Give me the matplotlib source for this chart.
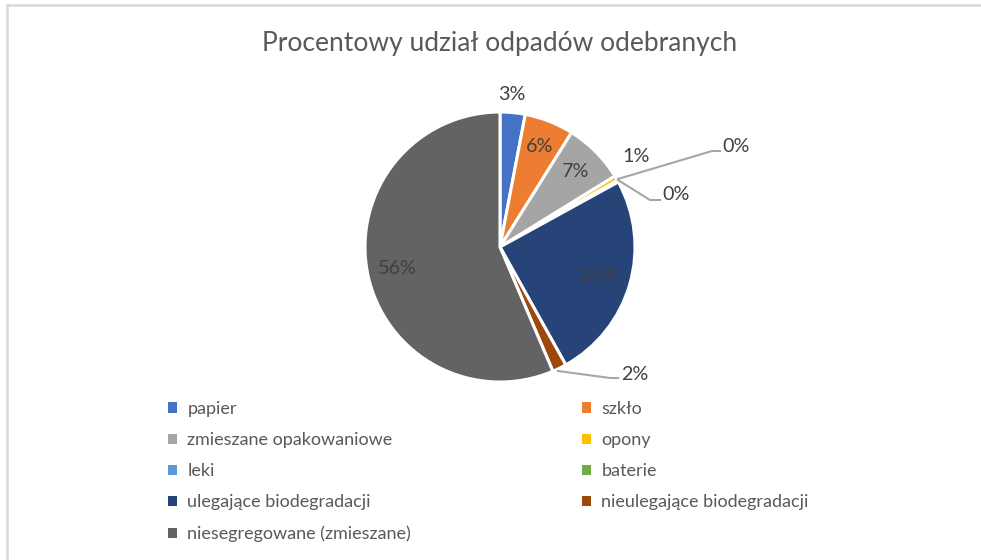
import matplotlib
matplotlib.use("Agg")
import matplotlib.pyplot as plt
from matplotlib.patches import Patch
from matplotlib.lines import Line2D
import numpy as np

categories = ["papier", "szkło", "zmieszane opakowaniowe", "opony", "leki", "baterie",
              "ulegające biodegradacji", "nieulegające biodegradacji", "niesegregowane (zmieszane)"]
values = [3.0, 5.9, 7.3, 0.6, 0.1, 0.1, 24.9, 1.7, 56.4]
colors = ["#4472C4", "#ED7D31", "#A5A5A5", "#FFC000", "#5B9BD5", "#70AD47",
          "#264478", "#9E480E", "#636363"]
title = "Procentowy udział odpadów odebranych"

FONT = ["Lato", "DejaVu Sans"]
TXT = "#595959"
LBL = "#404040"
LFS = 14.2

W, H = 981, 560
fig = plt.figure(figsize=(W / 100, H / 100), dpi=100)
fig.patch.set_facecolor("white")

# border (top + left)
fig.add_artist(Line2D([6.5 / W, 1], [1 - 5 / H, 1 - 5 / H], color="#D9D9D9", lw=1.8, transform=fig.transFigure))
fig.add_artist(Line2D([6.5 / W, 6.5 / W], [0, 1 - 5 / H], color="#D9D9D9", lw=1.8, transform=fig.transFigure))

fig.text(500 / W, 1 - 43 / H, title, ha="center", va="center", fontsize=19, color=TXT, family=FONT)

R = 135
cx, cy = 500, 247
ax = fig.add_axes([(cx - R) / W, (H - cy - R) / H, 2 * R / W, 2 * R / H])
wedges, _ = ax.pie(values, colors=colors, startangle=90, counterclock=False,
                   wedgeprops=dict(edgecolor="white", linewidth=2.2), radius=1.0)
ax.set_xlim(-1, 1)
ax.set_ylim(-1, 1)
ax.set_aspect("equal")
ax.axis("off")

total = sum(values)
labels = ["%.0f%%" % (v / total * 100) for v in values]

def px(dx, dy):
    return dx / R, -dy / R

# label placement (pixel offsets from centre), inside/outside per Excel best fit
inside = {1: 0.80, 2: 0.79, 6: 0.76, 8: 0.78}
outside_pos = {0: (12, -152), 3: (136, -91), 4: (236, -101), 5: (176, -52), 7: (135, 128)}
leaders = {
    4: [(118, -68), (212, -96), (220, -96)],
    5: [(118, -67), (150, -47), (160, -47)],
    7: [(58, 124), (110, 131), (118, 131)],
}
cum = 0.0
for i, v in enumerate(values):
    mid = 90 - (cum + v / 2) / total * 360
    cum += v
    if i in inside:
        r = inside[i]
        x, y = r * np.cos(np.radians(mid)), r * np.sin(np.radians(mid))
        ax.text(x, y, labels[i], ha="center", va="center", fontsize=LFS, color=LBL, family=FONT)
    else:
        x, y = px(*outside_pos[i])
        ax.text(x, y, labels[i], ha="center", va="center", fontsize=LFS, color=LBL, family=FONT,
                clip_on=False)
    if i in leaders:
        pts = [px(*p) for p in leaders[i]]
        ax.add_line(Line2D([p[0] for p in pts], [p[1] for p in pts], color="#A6A6A6", lw=1.5,
                           clip_on=False))

handles = [Patch(facecolor=c, edgecolor="none") for c in colors]
col1 = [0, 2, 4, 6, 8]
col2 = [1, 3, 5, 7]
common = dict(frameon=False, handlelength=0.52, handleheight=0.52, handletextpad=0.55,
              labelspacing=0.84, borderpad=0, borderaxespad=0,
              prop=dict(family=FONT, size=13), labelcolor=TXT)
leg1 = fig.legend([handles[i] for i in col1], [categories[i] for i in col1],
                  loc="upper left", bbox_to_anchor=(168 / W, 1 - 401 / H), **common)
leg2 = fig.legend([handles[i] for i in col2], [categories[i] for i in col2],
                  loc="upper left", bbox_to_anchor=(582 / W, 1 - 401 / H), **common)

fig.savefig("out.png", dpi=100, facecolor="white")
